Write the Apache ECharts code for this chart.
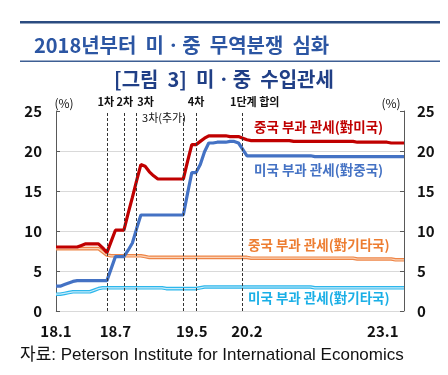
<!DOCTYPE html>
<html>
<head>
<meta charset="utf-8">
<script src="https://cdn.jsdelivr.net/npm/echarts@6/dist/echarts.min.js"></script>
<style>
  html, body { margin: 0; padding: 0; background: #fff; }
  #main { width: 448px; height: 375px; }
</style>
</head>
<body>
<div id="main"></div>
<script>
var chartDom = document.getElementById('main');
var myChart = echarts.init(chartDom);

// x축: 관세 변동 시점 기준 83개 포인트 (표시 라벨은 일부만)
const pointCount = 83;
const categories = [];
for (let i = 0; i < pointCount; i++) categories.push('p' + i);
const tickLabels = { 0: '18.1', 14: '18.7', 32: '19.5', 45: '20.2', 77: '23.1' };

// 중국 부과 관세(對미국)
const chinaOnUS = [
    8.0, 8.0, 8.0, 8.0, 8.0, 8.0, 8.2, 8.4, 8.4, 8.4,
    8.4, 7.9, 7.3, 8.7, 10.1, 10.1, 10.1, 12.2, 14.2, 16.3,
    18.3, 18.1, 17.4, 16.9, 16.5, 16.5, 16.5, 16.5, 16.5, 16.5,
    16.5, 18.7, 20.8, 20.8, 21.2, 21.6, 21.9, 21.9, 21.9, 21.9,
    21.9, 21.8, 21.8, 21.8, 21.6, 21.4, 21.3, 21.3, 21.3, 21.3,
    21.3, 21.3, 21.3, 21.3, 21.3, 21.3, 21.2, 21.2, 21.2, 21.2,
    21.2, 21.2, 21.2, 21.2, 21.2, 21.2, 21.2, 21.2, 21.2, 21.2,
    21.2, 21.1, 21.1, 21.1, 21.1, 21.1, 21.1, 21.1, 21.1, 21.0,
    21.0, 21.0, 21.0
];
// 미국 부과 관세(對중국)
const usOnChina = [
    3.1, 3.1, 3.3, 3.5, 3.7, 3.8, 3.8, 3.8, 3.8, 3.8,
    3.8, 3.8, 3.8, 5.3, 6.8, 6.8, 6.8, 7.6, 8.5, 10.3,
    12.0, 12.0, 12.0, 12.0, 12.0, 12.0, 12.0, 12.0, 12.0, 12.0,
    12.0, 14.7, 17.3, 17.3, 18.3, 19.9, 21.0, 21.0, 21.1, 21.1,
    21.1, 21.2, 21.2, 21.0, 20.2, 19.4, 19.4, 19.4, 19.4, 19.4,
    19.4, 19.4, 19.4, 19.4, 19.4, 19.4, 19.4, 19.4, 19.4, 19.4,
    19.4, 19.3, 19.3, 19.3, 19.3, 19.3, 19.3, 19.3, 19.3, 19.3,
    19.3, 19.3, 19.3, 19.3, 19.3, 19.3, 19.3, 19.3, 19.3, 19.3,
    19.3, 19.3, 19.3
];
// 중국 부과 관세(對기타국)
const chinaOnOthers = [
    7.8, 7.8, 7.8, 7.8, 7.8, 7.8, 7.8, 7.8, 7.8, 7.8,
    7.8, 7.4, 7.0, 6.9, 6.9, 6.9, 6.9, 6.9, 6.9, 6.9,
    6.9, 6.8, 6.7, 6.7, 6.7, 6.7, 6.7, 6.7, 6.7, 6.7,
    6.7, 6.7, 6.7, 6.7, 6.7, 6.7, 6.7, 6.7, 6.7, 6.7,
    6.7, 6.7, 6.7, 6.7, 6.7, 6.7, 6.6, 6.6, 6.6, 6.6,
    6.6, 6.6, 6.6, 6.6, 6.6, 6.6, 6.6, 6.6, 6.6, 6.6,
    6.6, 6.6, 6.6, 6.6, 6.6, 6.6, 6.6, 6.6, 6.6, 6.6,
    6.6, 6.5, 6.5, 6.5, 6.5, 6.5, 6.5, 6.5, 6.5, 6.5,
    6.4, 6.4, 6.4
];
// 미국 부과 관세(對기타국)
const usOnOthers = [
    2.1, 2.1, 2.2, 2.3, 2.4, 2.4, 2.4, 2.4, 2.4, 2.6,
    2.8, 2.9, 2.9, 2.9, 2.9, 2.9, 2.9, 2.9, 2.9, 2.9,
    2.9, 2.9, 2.9, 2.9, 2.9, 2.9, 2.8, 2.8, 2.8, 2.8,
    2.8, 2.8, 2.8, 2.8, 2.9, 3.0, 3.0, 3.0, 3.0, 3.0,
    3.0, 3.0, 3.0, 3.0, 3.0, 3.0, 3.0, 3.0, 3.0, 3.0,
    3.0, 3.0, 3.0, 3.0, 3.0, 3.0, 3.0, 3.0, 3.0, 3.0,
    3.0, 2.9, 2.9, 2.9, 2.9, 2.9, 2.9, 2.9, 2.9, 2.9,
    2.9, 2.9, 2.9, 2.9, 2.9, 2.9, 2.9, 2.9, 2.9, 2.9,
    2.9, 2.9, 2.9
];

// 관세 부과 이벤트 (x축 포인트 번호)
const events = [
    { name: '1차', at: 12, dx: -1 },
    { name: '2차', at: 16, dx: 1 },
    { name: '3차', at: 19, dx: 9 },
    { name: '', at: 30, dx: 0 },
    { name: '4차', at: 33, dx: 0 },
    { name: '1단계 합의', at: 44, dx: 12 }
];

const yTicks = [0, 5, 10, 15, 20, 25];

const FONT = "'Noto Sans CJK KR', 'Noto Sans', sans-serif";

function yAxisOf(pos) {
    return {
        type: 'value',
        position: pos,
        min: yTicks[0],
        max: yTicks[yTicks.length - 1],
        interval: yTicks[1] - yTicks[0],
        axisLine: { show: true, lineStyle: { color: '#595959', width: 1 } },
        axisTick: { show: true, inside: true, length: 4, lineStyle: { color: '#595959' } },
        axisLabel: {
            margin: pos === 'left' ? 14 : 13,
            color: '#111',
            fontSize: 15,
            fontWeight: 'bold',
            fontFamily: FONT
        },
        splitLine: pos === 'left'
            ? { show: true, showMaxLine: false, lineStyle: { color: '#D9D9D9', width: 1 } }
            : { show: false }
    };
}

var option = {
    backgroundColor: '#fff',
    animation: false,
    title: [
        {
            text: '2018년부터  미ㆍ중  무역분쟁  심화',
            left: 29,
            top: 30,
            textStyle: { color: '#2C56A3', fontSize: 20, fontWeight: 'bold', fontFamily: FONT }
        },
        {
            text: '[그림  3]  미ㆍ중  수입관세',
            left: 'center',
            top: 64,
            textStyle: { color: '#203F86', fontSize: 20, fontWeight: 'bold', fontFamily: FONT }
        }
    ],
    graphic: [
        { type: 'rect', shape: { x: 20, y: 21, width: 420, height: 2.5 }, style: { fill: '#2B4C80' } },
        { type: 'rect', shape: { x: 20, y: 60.5, width: 420, height: 1.5 }, style: { fill: '#3E5F94' } },
        { type: 'text', x: 64, y: 103, style: { text: '(%)', fill: '#111', font: '12px ' + FONT, align: 'center', verticalAlign: 'middle' } },
        { type: 'text', x: 391, y: 103, style: { text: '(%)', fill: '#111', font: '12px ' + FONT, align: 'center', verticalAlign: 'middle' } },
        { type: 'text', x: 164, y: 118, style: { text: '3차(추가)', fill: '#111', font: '11px ' + FONT, align: 'center', verticalAlign: 'middle' } },
        { type: 'text', x: 254, y: 127, style: { text: '중국 부과 관세(對미국)', fill: '#C00000', font: 'bold 13.5px ' + FONT, verticalAlign: 'middle' } },
        { type: 'text', x: 254, y: 170, style: { text: '미국 부과 관세(對중국)', fill: '#4472C4', font: 'bold 13.5px ' + FONT, verticalAlign: 'middle' } },
        { type: 'text', x: 248, y: 245, style: { text: '중국 부과 관세(對기타국)', fill: '#ED7D31', font: 'bold 13.5px ' + FONT, verticalAlign: 'middle' } },
        { type: 'text', x: 248, y: 298, style: { text: '미국 부과 관세(對기타국)', fill: '#1AAFE6', font: 'bold 13.5px ' + FONT, verticalAlign: 'middle' } },
        { type: 'text', x: 20, y: 355, style: { text: '자료: Peterson Institute for International Economics', fill: '#111', font: "17px 'Liberation Sans', " + FONT, verticalAlign: 'middle' } }
    ],
    grid: {
        left: 56,
        right: 44,
        top: 111,
        bottom: 64
    },
    xAxis: {
        type: 'category',
        boundaryGap: false,
        data: categories,
        axisLine: { show: true, lineStyle: { color: '#D9D9D9' } },
        axisTick: { show: false },
        axisLabel: {
            interval: 0,
            margin: 13,
            color: '#111',
            fontSize: 15,
            fontWeight: 'bold',
            fontFamily: FONT,
            formatter: (v, i) => tickLabels[i] || ''
        },
        splitLine: { show: false }
    },
    yAxis: [yAxisOf('left'), yAxisOf('right')],
    series: [
        {
            name: '미국 부과 관세(對기타국)',
            type: 'line',
            data: usOnOthers,
            symbol: 'none',
            lineStyle: { color: '#2DB7EC', width: 3.6 },
            z: 2
        },
        {
            name: '미국 부과 관세(對기타국) 내부',
            type: 'line',
            data: usOnOthers,
            symbol: 'none',
            lineStyle: { color: '#C8ECFA', width: 1.2 },
            z: 2
        },
        {
            name: '중국 부과 관세(對기타국)',
            type: 'line',
            data: chinaOnOthers,
            symbol: 'none',
            lineStyle: { color: '#EE8547', width: 3.6 },
            z: 2
        },
        {
            name: '중국 부과 관세(對기타국) 내부',
            type: 'line',
            data: chinaOnOthers,
            symbol: 'none',
            lineStyle: { color: '#FAD3B8', width: 1.2 },
            z: 2
        },
        {
            name: '미국 부과 관세(對중국)',
            type: 'line',
            data: usOnChina,
            symbol: 'none',
            lineStyle: { color: '#4472C4', width: 3.2 },
            z: 3
        },
        {
            name: '중국 부과 관세(對미국)',
            type: 'line',
            data: chinaOnUS,
            symbol: 'none',
            lineStyle: { color: '#C00000', width: 3.2 },
            z: 4,
            markLine: {
                silent: true,
                symbol: ['none', 'none'],
                lineStyle: { color: '#333', width: 1, type: [3, 2] },
                label: {
                    show: true,
                    position: 'end',
                    distance: 4,
                    color: '#111',
                    fontSize: 11,
                    fontWeight: 'bold',
                    fontFamily: FONT
                },
                data: events.map(e => ({
                    xAxis: e.at,
                    label: { formatter: e.name, offset: [e.dx, 0] }
                }))
            }
        }
    ]
};

myChart.setOption(option);
</script>
</body>
</html>
